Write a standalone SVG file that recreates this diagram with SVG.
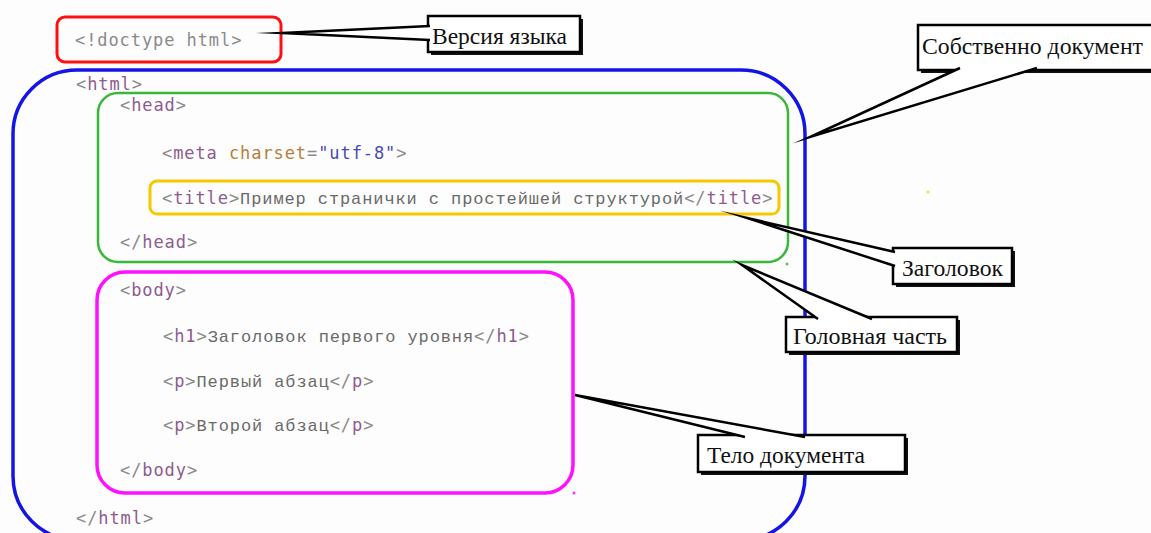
<svg xmlns="http://www.w3.org/2000/svg" width="1151" height="533" viewBox="0 0 1151 533">
  <style>
    .code { font-family: "DejaVu Sans Mono", monospace; font-size: 17px; letter-spacing: 0.92px; fill: #8a8a8a; }
    .tag { fill: #8e5b8e; }
    .attr { fill: #b67d3c; }
    .val { fill: #4848b4; }
    .ru { font-family: "Liberation Mono", monospace; fill: #6a6a6a; letter-spacing: 0.9px; }
    .frame { fill: none; }
    .label { font-family: "Liberation Serif", serif; font-size: 23px; fill: #111; }
    .box { fill: #fff; stroke: #000; stroke-width: 2.5; }
    .shadow { fill: #111; }
    .pointer { fill: #fff; stroke: #000; stroke-width: 2.5; stroke-linejoin: miter; stroke-miterlimit: 30; }
  </style>

  <rect width="1151" height="533" fill="#fdfdfd"/>

  <!-- doctype line -->
  <g id="doctype">
    <rect class="frame" x="57" y="17" width="224" height="45" rx="8" stroke="#ff1010" stroke-width="3"/>
    <text class="code" x="75" y="46">&lt;!doctype html&gt;</text>
  </g>

  <!-- html element: the whole document -->
  <g id="html">
    <rect class="frame" x="13" y="70" width="792" height="470" rx="64" stroke="#1414e6" stroke-width="3.5"/>
    <text class="code" x="76" y="90">&lt;<tspan class="tag">html</tspan>&gt;</text>
    <text class="code" x="76" y="524">&lt;/<tspan class="tag">html</tspan>&gt;</text>
  </g>

  <!-- head section -->
  <g id="head">
    <rect class="frame" x="98" y="93" width="690" height="169" rx="20" stroke="#38b838" stroke-width="2.5"/>
    <text class="code" x="120" y="111">&lt;<tspan class="tag">head</tspan>&gt;</text>
    <text class="code" x="162" y="159">&lt;<tspan class="tag">meta</tspan> <tspan class="attr">charset</tspan>=<tspan class="val">"utf-8"</tspan>&gt;</text>
    <text class="code" x="120" y="248">&lt;/<tspan class="tag">head</tspan>&gt;</text>
  </g>

  <!-- title element -->
  <g id="title">
    <rect class="frame" x="150" y="181" width="629" height="33" rx="7" stroke="#f5c800" stroke-width="3"/>
    <text class="code" x="162" y="204">&lt;<tspan class="tag">title</tspan>&gt;<tspan class="ru">Пример странички с простейшей структурой</tspan>&lt;/<tspan class="tag">title</tspan>&gt;</text>
  </g>

  <!-- body section -->
  <g id="body">
    <rect class="frame" x="97" y="272" width="476" height="221" rx="28" stroke="#ff10ff" stroke-width="3.5"/>
    <text class="code" x="120" y="296">&lt;<tspan class="tag">body</tspan>&gt;</text>
    <text class="code" x="163" y="342">&lt;<tspan class="tag">h1</tspan>&gt;<tspan class="ru">Заголовок первого уровня</tspan>&lt;/<tspan class="tag">h1</tspan>&gt;</text>
    <text class="code" x="163" y="387">&lt;<tspan class="tag">p</tspan>&gt;<tspan class="ru">Первый абзац</tspan>&lt;/<tspan class="tag">p</tspan>&gt;</text>
    <text class="code" x="163" y="431">&lt;<tspan class="tag">p</tspan>&gt;<tspan class="ru">Второй абзац</tspan>&lt;/<tspan class="tag">p</tspan>&gt;</text>
    <text class="code" x="120" y="476">&lt;/<tspan class="tag">body</tspan>&gt;</text>
  </g>

  <!-- stray specks -->
  <circle cx="928" cy="192" r="1.5" fill="#d8e640"/>
  <circle cx="787" cy="264" r="1.5" fill="#55cc55"/>
  <circle cx="574" cy="493" r="1.5" fill="#ff30ff"/>

  <!-- callout labels -->
  <g id="label-version">
    <rect class="shadow" x="431" y="19" width="152" height="36"/>
    <rect class="box" x="428" y="16" width="152" height="36"/>
    <text class="label" x="432" y="44" textLength="135" lengthAdjust="spacingAndGlyphs">Версия языка</text>
  </g>
  <g id="label-document">
    <rect class="shadow" x="921" y="28" width="260" height="45"/>
    <rect class="box" x="918" y="25" width="260" height="45"/>
    <text class="label" x="922" y="54" textLength="221" lengthAdjust="spacingAndGlyphs">Собственно документ</text>
  </g>
  <g id="label-title">
    <rect class="shadow" x="896" y="251" width="119" height="36"/>
    <rect class="box" x="893" y="248" width="119" height="36"/>
    <text class="label" x="902" y="276" textLength="101" lengthAdjust="spacingAndGlyphs">Заголовок</text>
  </g>
  <g id="label-head">
    <rect class="shadow" x="789" y="320" width="171" height="35"/>
    <rect class="box" x="786" y="317" width="171" height="35"/>
    <text class="label" x="793" y="344" textLength="154" lengthAdjust="spacingAndGlyphs">Головная часть</text>
  </g>
  <g id="label-body">
    <rect class="shadow" x="701" y="438" width="207" height="37"/>
    <rect class="box" x="698" y="435" width="207" height="37"/>
    <text class="label" x="707" y="463" textLength="158" lengthAdjust="spacingAndGlyphs">Тело документа</text>
  </g>

  <!-- callout pointers: open wedges whose base sits just inside the label box -->
  <g id="connectors">
    <path class="pointer" d="M430,26 L282,33 L430,40"/>
    <path class="pointer" d="M960,68 L810,137 L1037,68"/>
    <path class="pointer" d="M895,252 L747,218 L895,266"/>
    <path class="pointer" d="M818,319 L742,265 L872,319"/>
    <path class="pointer" d="M745,437 L575,395 L805,437"/>
  </g>
</svg>
